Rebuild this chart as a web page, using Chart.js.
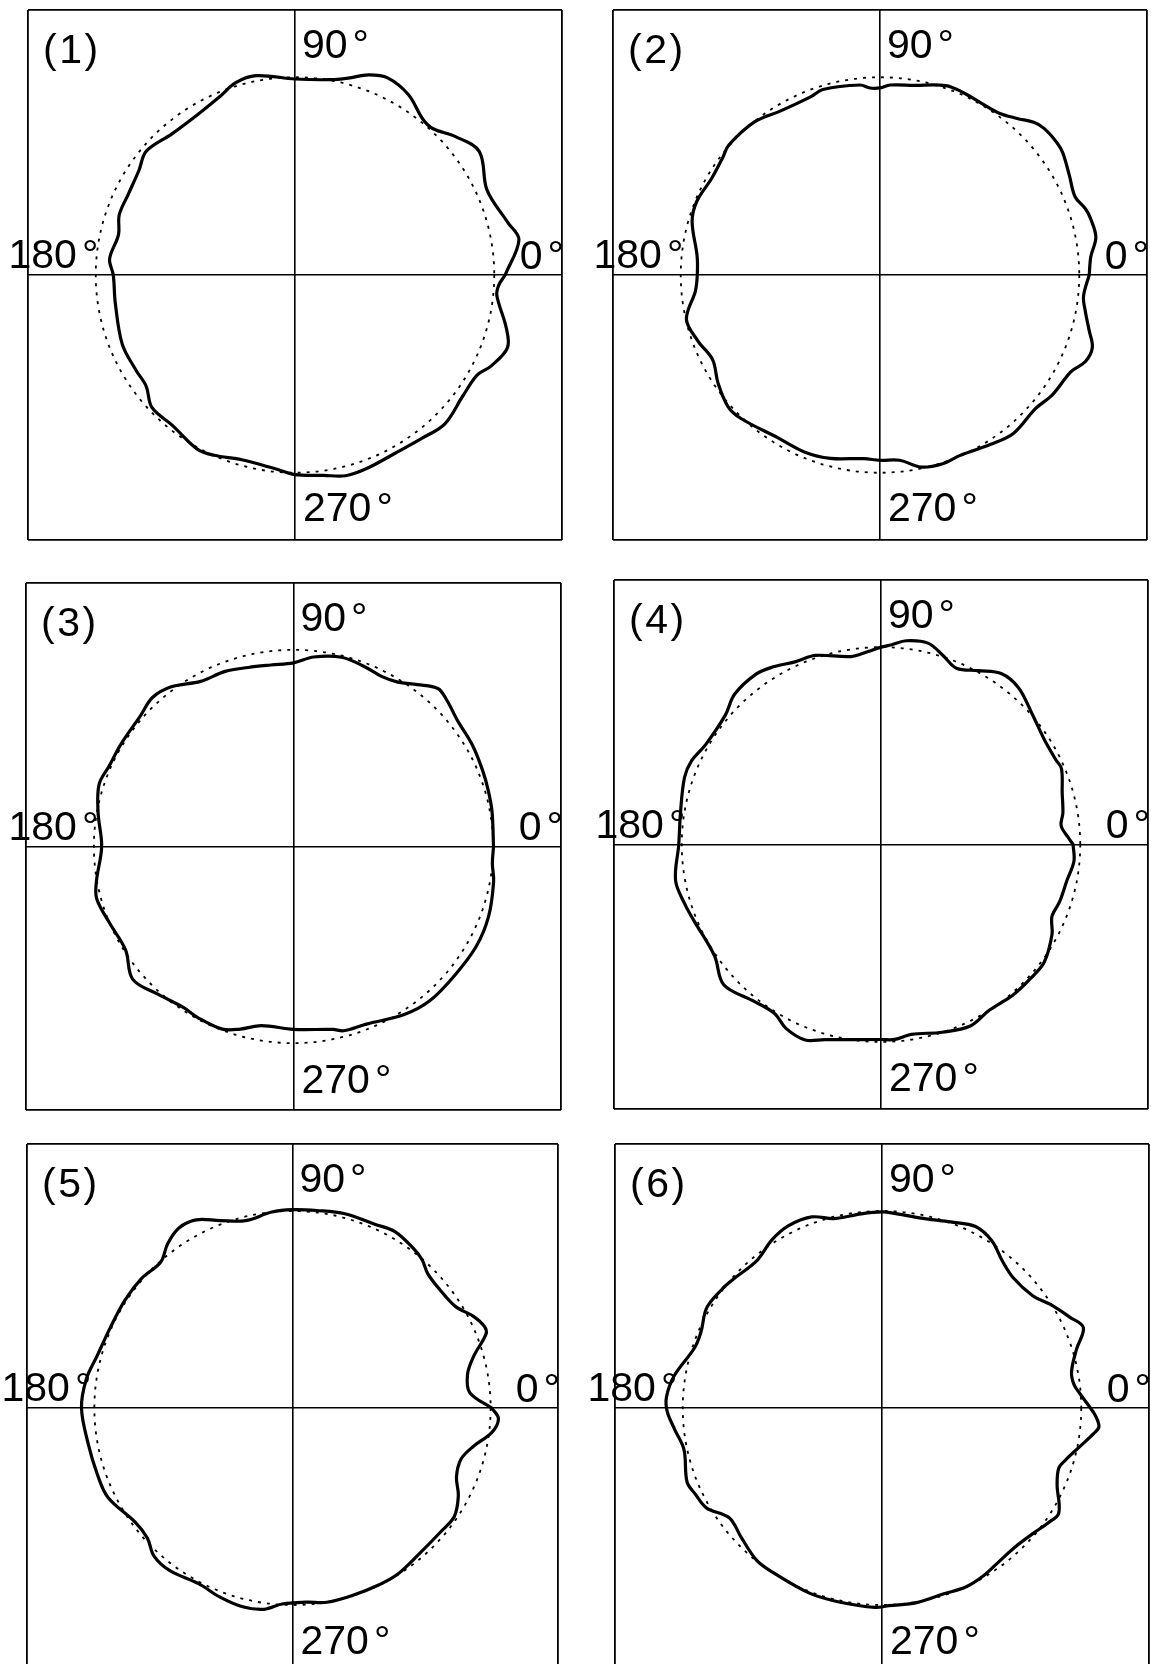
<!DOCTYPE html>
<html>
<head>
<meta charset="utf-8">
<script src="https://cdn.jsdelivr.net/npm/chart.js@4.4.1/dist/chart.umd.min.js"></script>
<style>
  html, body { margin: 0; padding: 0; overflow: hidden; background: #fff; }
  #fig { position: relative; width: 1151px; height: 1664px; overflow: hidden; background: #fff; }
  .panel { position: absolute; }
  .lbl { position: absolute; font-family: "Liberation Sans", Arial, Helvetica, sans-serif;
         font-size: 41px; line-height: 41px; color: #000; white-space: nowrap; }
  .deg { margin-left: 5px; }
  .name { letter-spacing: 2.5px; }
</style>
</head>
<body>
<div id="fig"></div>
<script>
// ---------------- data (angle in degrees, normalised radius; reference circle = 1) ----------------
const panelNames = ['(1)', '(2)', '(3)', '(4)', '(5)', '(6)'];
const angleTickLabels = ['0', '90', '180', '270'];
const referenceRadius = 1;
const axisLimit = 1.34;

const angles1 = [0,9,14,24,34,41,47,51,58,65,70,75,80,90,101,107,113,121,131,140,146,154,161,167,175,180,189,202,211,217,223,231,241,246,254,264,270,278,284,290,299,308,315,324,331,335,341,346,354,357];
const radii1  = [1.055,1.138,1.10,1.055,1.116,1.067,1.013,1.017,1.075,1.10,1.077,1.031,1.003,0.991,1.027,1.017,0.976,0.947,0.944,0.974,0.945,0.931,0.933,0.909,0.934,0.912,0.913,0.935,0.932,0.935,0.982,0.978,1.008,0.998,0.972,0.984,1.009,1.023,1.046,1.043,1.032,1.044,1.064,1.041,1.045,1.087,1.128,1.092,1.019,1.023];

const angles2 = [0,5,10,15,18,22,28,34,37,42,45,49,54,60,66,71,80,87,90,93,96,107,111,121,129,139,143,150,158,164,174,180,185,193,200,207,214,221,226,238,247,255,265,270,276,282,288,294,303,310,319,325,333,337,341,345,350,354];
const radii2  = [1.05,1.062,1.10,1.095,1.084,1.056,1.076,1.106,1.112,1.108,1.092,1.049,1.013,1.007,1.013,1.013,0.974,0.962,0.946,0.947,0.966,0.981,0.966,0.968,0.998,1.004,0.988,0.976,0.992,0.981,0.923,0.917,0.930,0.997,0.973,0.943,0.980,1.012,1.007,0.970,0.972,0.960,0.932,0.937,0.942,0.993,1.005,0.997,1.021,1.044,1.032,1.056,1.076,1.120,1.127,1.087,1.046,1.027];

const angles3 = [0,10,16,22,30,38,44,48,53,58,63,69,76,84,90,97,104,111,119,127,133,139,149,156,162,170,180,190,195,203,212,220,228,236,241,249,254,260,270,282,285,292,303,311,321,331,340,350,355];
const radii3  = [1.002,1.01,1.016,1.023,1.034,1.042,1.069,1.081,1.031,0.986,0.971,0.982,0.992,0.969,0.934,0.930,0.938,0.954,0.960,1.017,1.036,1.015,1.009,1.010,1.024,0.994,0.961,1.002,1.021,1.0,0.992,1.051,1.012,0.987,0.993,0.995,0.966,0.925,0.930,0.951,0.970,0.974,1.019,1.040,1.040,1.047,1.040,1.018,1.0];

const angles4 = [0,2,6,10,16,23,26,33,41,49,55,61,67,72,77,83,87,90,94,99,109,115,121,126,134,140,150,156,161,171,180,190,197,202,214,222,231,238,243,249,254,259,270,274,279,288,296,303,311,318,324,332,337,342,349,355];
const radii4  = [0.964,0.942,0.909,0.927,0.946,0.984,0.977,0.977,1.006,1.052,1.056,1.007,0.970,1.007,1.047,1.040,1.013,1.0,0.979,0.964,1.013,1.021,1.05,1.067,1.058,1.020,1.015,1.041,1.043,1.019,1.015,1.047,1.030,1.016,1.008,1.062,1.019,1.009,1.047,1.061,1.028,1.007,0.988,0.99,0.974,1.0,1.023,1.0,1.010,1.012,1.013,0.972,0.932,0.942,0.951,0.972];

const angles5 = [0,5,11,16,21,23,27,32,39,45,49,53,60,66,75,83,90,96,104,111,117,122,127,132,139,147,156,165,172,180,190,199,206,216,222,227,233,242,249,256,262,267,274,280,288,296,302,311,320,326,332,337,343,348,353,357];
const radii5  = [1.006,0.898,0.900,0.951,1.046,1.054,1.025,0.971,0.956,0.965,0.997,1.014,1.034,1.021,1.021,1.010,1.007,1.0,0.980,1.019,1.072,1.079,1.046,0.995,1.006,1.007,1.006,1.021,1.051,1.065,1.047,1.041,1.036,0.983,0.986,1.026,1.032,1.010,1.027,1.040,1.032,0.996,0.988,1.001,0.998,0.998,0.997,0.978,0.977,0.985,0.948,0.899,0.889,0.934,1.014,1.041];

const angles6 = [0,4,7,11,17,22,26,32,37,45,51,57,63,70,77,86,90,96,104,110,117,123,130,139,143,150,157,162,171,177,181,186,192,201,205,210,216,223,231,237,249,258,268,272,280,288,295,301,307,313,320,325,329,336,341,344,349,353,355,358];
const radii6  = [1.046,0.998,0.971,0.969,1.021,1.090,1.050,0.994,0.947,0.933,0.960,1.012,1.034,1.005,0.985,0.989,0.995,0.991,0.991,1.032,1.037,1.016,0.977,0.993,1.004,1.016,0.987,0.989,1.055,1.083,1.078,1.046,1.016,1.048,1.034,1.016,0.948,0.965,0.997,0.998,1.008,1.008,1.013,1.004,1.003,0.993,1.001,0.992,0.976,0.971,0.990,1.017,1.035,0.962,0.938,0.958,1.014,1.070,1.093,1.071];

const seriesAngles = [angles1, angles2, angles3, angles4, angles5, angles6];
const seriesRadii  = [radii1, radii2, radii3, radii4, radii5, radii6];

// ---------------- layout (pixels) ----------------
const boxes = [
  { x: 28,  y: 10,   w: 534, h: 530, off180: -15 },
  { x: 613, y: 10,   w: 534, h: 530, off180: -15 },
  { x: 26,  y: 583,  w: 535, h: 527, off180: -13 },
  { x: 614, y: 580,  w: 534, h: 529, off180: -14 },
  { x: 27,  y: 1144, w: 531, h: 528, off180: -21 },
  { x: 615, y: 1144, w: 534, h: 528, off180: -23 }
];
const PAD = 3;
const FONT = 41;

// ---------------- plugin: dotted reference circle through the scales ----------------
const refCircle = {
  id: 'refCircle',
  beforeDatasetsDraw(chart, args, opts) {
    const { ctx, scales: { x, y } } = chart;
    const cx = x.getPixelForValue(0), cy = y.getPixelForValue(0);
    const rx = Math.abs(x.getPixelForValue(opts.radius) - cx);
    const ry = Math.abs(y.getPixelForValue(opts.radius) - cy);
    ctx.save();
    ctx.beginPath();
    ctx.setLineDash([3, 6]);
    ctx.lineWidth = 1.8;
    ctx.strokeStyle = '#000';
    ctx.ellipse(cx, cy, rx, ry, 0, 0, Math.PI * 2);
    ctx.stroke();
    ctx.restore();
  }
};

const fig = document.getElementById('fig');

function addLabel(text, withDeg, left, top, cls, rightAlign) {
  const s = document.createElement('span');
  s.className = 'lbl' + (cls ? ' ' + cls : '');
  s.appendChild(document.createTextNode(text));
  if (withDeg) {
    const d = document.createElement('span');
    d.className = 'deg';
    d.textContent = '°';
    s.appendChild(d);
  }
  s.style.left = left + 'px';
  s.style.top = top + 'px';
  if (rightAlign) s.style.transform = 'translateX(-100%)';
  fig.appendChild(s);
}

function scaleOpts() {
  return {
    type: 'linear', min: -axisLimit, max: axisLimit,
    afterBuildTicks: s => { s.ticks = [{ value: -axisLimit }, { value: 0 }, { value: axisLimit }]; },
    ticks: { display: false },
    grid: {
      drawTicks: false, color: '#000',
      lineWidth: c => (c.tick && c.tick.value === 0) ? 1.6 : 1.8
    },
    border: { display: false }
  };
}

boxes.forEach((b, i) => {
  const wrap = document.createElement('div');
  wrap.className = 'panel';
  wrap.style.left = (b.x - PAD) + 'px';
  wrap.style.top = (b.y - PAD) + 'px';
  wrap.style.width = (b.w + 2 * PAD) + 'px';
  wrap.style.height = (b.h + 2 * PAD) + 'px';
  const cv = document.createElement('canvas');
  wrap.appendChild(cv);
  fig.appendChild(wrap);

  const ang = seriesAngles[i], rad = seriesRadii[i];
  const pts = ang.map((a, k) => ({
    x: rad[k] * Math.cos(a * Math.PI / 180),
    y: rad[k] * Math.sin(a * Math.PI / 180)
  }));
  pts.push({ x: pts[0].x, y: pts[0].y });

  new Chart(cv, {
    type: 'scatter',
    data: {
      datasets: [{
        data: pts, showLine: true, borderColor: '#000', borderWidth: 3.2,
        pointRadius: 0, pointHoverRadius: 0, tension: 0.35, fill: false,
        borderJoinStyle: 'round', borderCapStyle: 'round'
      }]
    },
    options: {
      responsive: true, maintainAspectRatio: false, animation: false,
      devicePixelRatio: 1,
      layout: { padding: PAD },
      events: [],
      plugins: { legend: { display: false }, tooltip: { enabled: false },
                 refCircle: { radius: referenceRadius } },
      scales: { x: scaleOpts(), y: scaleOpts() }
    },
    plugins: [refCircle]
  });

  const cx = b.x + b.w / 2, cy = b.y + b.h / 2;
  const BL = 0.8465 * FONT; // baseline offset within a line box of height FONT
  addLabel(panelNames[i], false, b.x + 15, b.y + 54 - BL, 'name');
  addLabel(angleTickLabels[1], true, cx + 7, b.y + 49 - BL);
  addLabel(angleTickLabels[3], true, cx + 8, cy + 247 - BL);
  addLabel(angleTickLabels[2], true, b.x + b.off180 - 4.5, cy - 6 - BL);
  addLabel(angleTickLabels[0], true, b.x + b.w + 2, cy - 5.5 - BL, '', true);
});
</script>
</body>
</html>
